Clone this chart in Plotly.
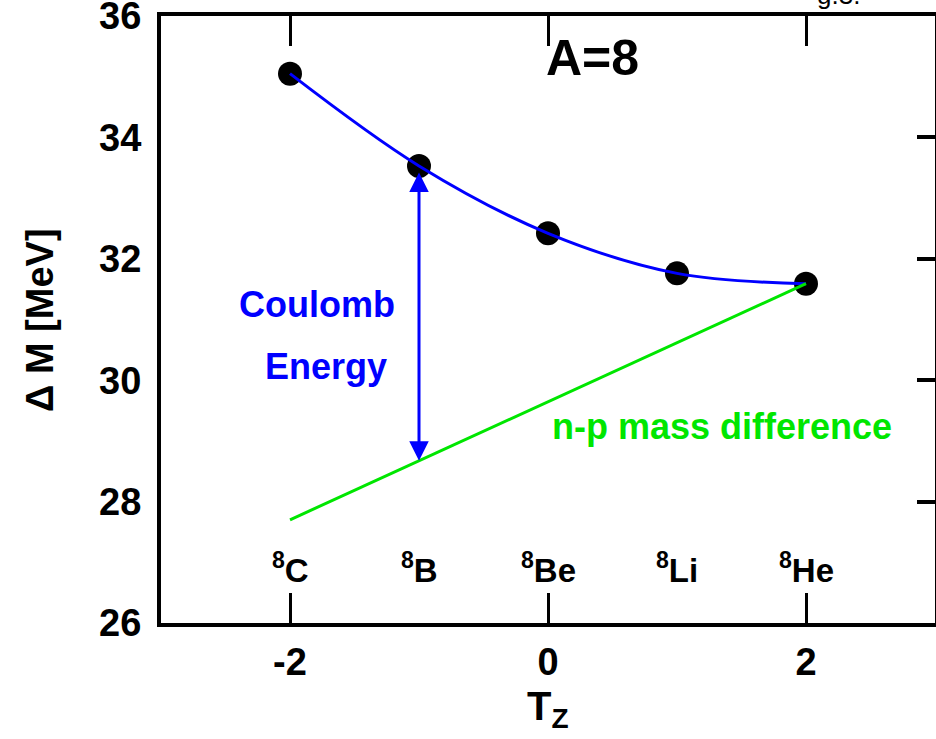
import plotly.graph_objects as go

# ---- data ----
tz = [-2, -1, 0, 1, 2]
isotopes = ["C", "B", "Be", "Li", "He"]
mass_number = 8
mass_excess = [35.05, 33.53, 32.42, 31.76, 31.59]   # Delta M [MeV]
np_tz = [-2, 2]
np_mass = [27.70, 31.59]                              # n-p mass difference line
arrow_tz = -1
arrow_low, arrow_high = 28.65, 33.42                  # Coulomb energy arrow
x_ticks = [-2, 0, 2]
x_tick_text = ["-2", "0", "2"]
y_ticks = [26, 28, 30, 32, 34, 36]
y_minor_right = [28, 30, 32, 34]

SANS = "Liberation Sans, Arial, sans-serif"
BLUE = "#0000ff"
GREEN = "#00e600"

fig = go.Figure()

# data points
fig.add_trace(go.Scatter(x=tz, y=mass_excess, mode="markers",
                         marker=dict(color="black", size=24), showlegend=False))
# smooth blue fit through points
fig.add_trace(go.Scatter(x=tz, y=mass_excess, mode="lines",
                         line=dict(color=BLUE, width=3, shape="spline", smoothing=1.0),
                         showlegend=False))
# green n-p line
fig.add_trace(go.Scatter(x=np_tz, y=np_mass, mode="lines",
                         line=dict(color=GREEN, width=3), showlegend=False))
# invisible trace on right axis for ticks
fig.add_trace(go.Scatter(x=[tz[0]], y=[mass_excess[0]], mode="markers",
                         marker=dict(opacity=0), yaxis="y2", showlegend=False,
                         hoverinfo="skip"))

annotations = []
# double arrow
annotations.append(dict(x=arrow_tz, y=arrow_high, ax=arrow_tz, ay=arrow_low,
                        xref="x", yref="y", axref="x", ayref="y", text="",
                        showarrow=True, arrowhead=2, arrowside="end+start",
                        arrowwidth=3, arrowsize=1.3, arrowcolor=BLUE,
                        startarrowhead=2, startarrowsize=1.3))
# isotope labels
for t, el in zip(tz, isotopes):
    annotations.append(dict(x=t, y=26.9, xref="x", yref="y", showarrow=False,
                            text=f"<sup>{mass_number}</sup>{el}",
                            font=dict(family=SANS, size=33, color="black", weight="bold"),
                            xanchor="center", yanchor="middle"))
annotations += [
    dict(x=0.346, y=35.31, xref="x", yref="y", showarrow=False, text="A=8",
         font=dict(family=SANS, size=50, color="black", weight="bold")),
    dict(x=-1.788, y=31.24, xref="x", yref="y", showarrow=False, text="Coulomb",
         font=dict(family=SANS, size=36, color=BLUE, weight="bold")),
    dict(x=-1.722, y=30.23, xref="x", yref="y", showarrow=False, text="Energy",
         font=dict(family=SANS, size=36, color=BLUE, weight="bold")),
    dict(x=1.349, y=29.23, xref="x", yref="y", showarrow=False, text="n-p mass difference",
         font=dict(family=SANS, size=36, color=GREEN, weight="bold")),
    dict(x=0.5, y=-0.142, xref="paper", yref="paper", showarrow=False,
         text="T<sub>Z</sub>", yanchor="middle",
         font=dict(family=SANS, size=40, color="black", weight="bold")),
    dict(x=-0.157, y=0.5, xref="paper", yref="paper", showarrow=False,
         text="\u0394 M [MeV]", textangle=-90, xanchor="center", yanchor="middle",
         font=dict(family=SANS, size=38, color="black", weight="bold")),
    dict(x=0.875, y=1.034, xref="paper", yref="paper", showarrow=False,
         text="g.3.", xanchor="center", yanchor="middle",
         font=dict(family=SANS, size=26, color="black")),
]

fig.update_layout(
    width=936, height=739,
    margin=dict(l=161, r=1, t=16, b=116, autoexpand=False),
    paper_bgcolor="white", plot_bgcolor="white",
    showlegend=False,
    annotations=annotations,
    xaxis=dict(range=[-3, 3], tickvals=x_ticks, ticktext=x_tick_text,
               ticks="inside", ticklen=30,
               tickwidth=3, tickcolor="black", showline=True, linewidth=4,
               linecolor="black", mirror="ticks", showgrid=False, zeroline=False,
               ticklabelstandoff=2,
               tickfont=dict(family=SANS, size=38, color="black", weight="bold")),
    yaxis=dict(range=[26, 36], tickvals=y_ticks, ticks="", showline=True,
               linewidth=4, linecolor="black", mirror=True, showgrid=False,
               zeroline=False, ticklabelstandoff=8, ticklabeloverflow="allow",
               tickfont=dict(family=SANS, size=38, color="black", weight="bold")),
    yaxis2=dict(range=[26, 36], overlaying="y", side="right", tickvals=y_minor_right,
                ticks="inside", ticklen=18, tickwidth=4, tickcolor="black",
                showticklabels=False, showgrid=False, zeroline=False, showline=False),
)

fig.write_html("out.html")
